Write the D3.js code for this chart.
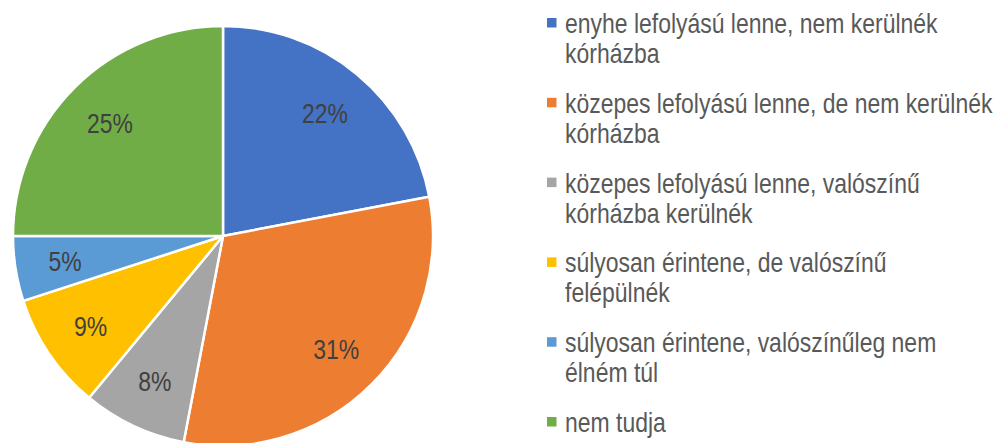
<!DOCTYPE html>
<html>
<head>
<meta charset="utf-8">
<script src="https://cdn.jsdelivr.net/npm/d3@7"></script>
<style>
  body { margin: 0; background: #fff; }
  svg { display: block; }
</style>
</head>
<body>
<div id="chart"></div>
<script>
// Adatok
const categories = [
  'enyhe lefolyású lenne, nem kerülnék kórházba',
  'közepes lefolyású lenne, de nem kerülnék kórházba',
  'közepes lefolyású lenne, valószínű kórházba kerülnék',
  'súlyosan érintene, de valószínű felépülnék',
  'súlyosan érintene, valószínűleg nem élném túl',
  'nem tudja'
];
const values = [22, 31, 8, 9, 5, 25];
const colors = ['#4472C4', '#ED7D31', '#A5A5A5', '#FFC000', '#5B9BD5', '#70AD47'];

const width = 1000;
const height = 443;
const narrow = 0.82; // Arial Narrow ~ 82% of Arial width

const svg = d3.select('#chart')
  .append('svg')
  .attr('width', width)
  .attr('height', height);

// Pie
const cx = 223, cy = 236, radius = 210;
const data = categories.map((c, i) => ({ name: c, value: values[i], color: colors[i] }));

const pie = d3.pie().sort(null).value(d => d.value);
const arc = d3.arc().innerRadius(0).outerRadius(radius);
const labelArc = d3.arc().innerRadius(160).outerRadius(160);
const total = d3.sum(values);

const g = svg.append('g').attr('transform', `translate(${cx},${cy})`);

const arcs = pie(data);

g.selectAll('path.slice')
  .data(arcs)
  .join('path')
  .attr('class', 'slice')
  .attr('d', arc)
  .attr('fill', d => d.data.color)
  .attr('stroke', '#fff')
  .attr('stroke-width', 2.5)
  .attr('stroke-linejoin', 'round');

g.selectAll('g.pct')
  .data(arcs)
  .join('g')
  .attr('class', 'pct')
  .attr('transform', d => {
    const [x, y] = labelArc.centroid(d);
    return `translate(${x},${y}) scale(${narrow},1)`;
  })
  .append('text')
  .attr('text-anchor', 'middle')
  .attr('dy', '0.36em')
  .attr('font-family', 'Liberation Sans, Arial, sans-serif')
  .attr('font-size', 28)
  .attr('fill', '#404040')
  .text(d => Math.round(d.data.value / total * 100) + '%');

// Legend
const legendX = 547;
const textX = 565;
const firstBaseline = 33;
const itemStep = 79.8;
const lineHeight = 30;
const maxWidth = 431;

const legend = svg.append('g');

data.forEach((d, i) => {
  const base = firstBaseline + i * itemStep;
  legend.append('rect')
    .attr('x', legendX)
    .attr('y', base - 15)
    .attr('width', 9.5)
    .attr('height', 9.5)
    .attr('fill', d.color);

  const tg = legend.append('g')
    .attr('transform', `translate(${textX},${base}) scale(${narrow},1)`);
  const text = tg.append('text')
    .attr('font-family', 'Liberation Sans, Arial, sans-serif')
    .attr('font-size', 28)
    .attr('fill', '#595959');

  // sortördelés
  const words = d.name.split(' ');
  let line = [];
  let lineNo = 0;
  let tspan = text.append('tspan').attr('x', 0).attr('y', 0);
  words.forEach(w => {
    line.push(w);
    tspan.text(line.join(' '));
    if (tspan.node().getComputedTextLength() * narrow > maxWidth && line.length > 1) {
      line.pop();
      tspan.text(line.join(' '));
      line = [w];
      lineNo++;
      tspan = text.append('tspan').attr('x', 0).attr('y', lineNo * lineHeight).text(w);
    }
  });
});
</script>
</body>
</html>
